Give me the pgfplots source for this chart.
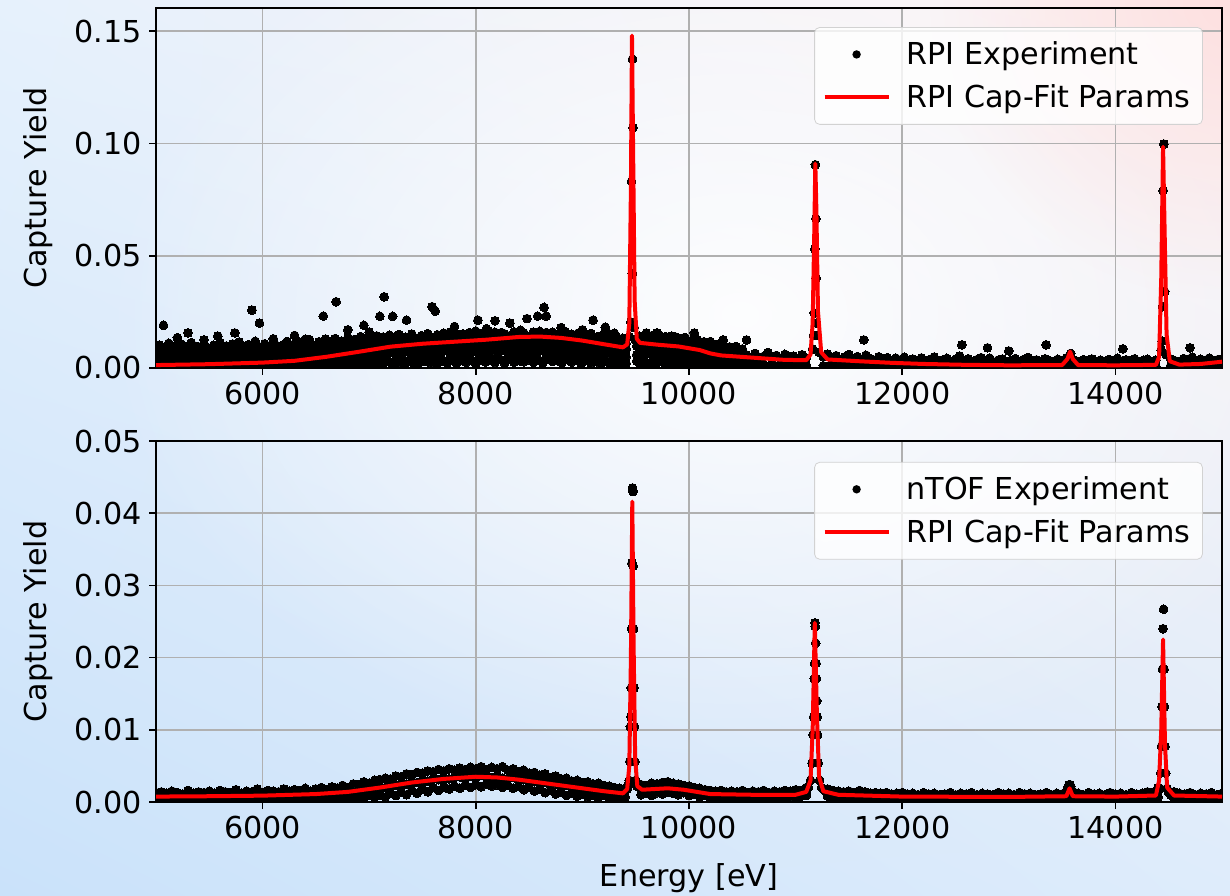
\documentclass[border=0pt]{standalone}
\usepackage{pgfplots}
\pgfplotsset{compat=1.18}
\usepackage{pgfplotstable}
\usepackage{fontspec}
\setmainfont{DejaVu Sans}
\usetikzlibrary{fadings,shadings}
\tikzfading[name=myfade, inner color=transparent!0, outer color=transparent!100]
\newcommand\fs{\fontsize{15.1}{17.5}\selectfont}
\definecolor{bgUL}{RGB}{230,241,252}
\definecolor{bgUR}{RGB}{254,243,243}
\definecolor{bgLL}{RGB}{202,226,250}
\definecolor{bgLR}{RGB}{222,236,251}
\definecolor{pinkc}{RGB}{253,224,224}
\definecolor{gridc}{RGB}{176,176,176}
\definecolor{legc}{RGB}{210,210,210}

% ---------- top panel: RPI experiment (values in units of 1e-3) ----------
\pgfplotstableread{
E a b c d
5000 1.2 3.1 7.9 5.5
5030 0.3 5.6 10.2 2.4
5060 1.9 4.0 6.8 8.7
5090 0.6 6.2 9.4 3.9
5120 1.4 2.8 11.0 6.6
5150 0.2 4.9 7.5 9.6
5180 2.1 3.6 9.9 1.5
5210 0.9 6.5 8.2 4.3
5240 0.4 4.2 10.6 7.4
5270 1.7 5.3 7.1 2.8
5300 0.7 3.4 9.0 6.1
5330 2.3 5.9 11.3 8.2
5360 0.1 4.5 8.0 3.0
5390 1.1 2.9 9.6 5.9
5420 1.8 6.1 7.4 9.3
5450 0.5 4.8 10.9 2.2
5480 1.5 3.7 8.6 6.9
5510 0.8 5.5 6.9 4.0
5540 2.0 4.1 10.1 7.9
5570 0.3 6.6 9.2 1.8
5600 1.3 3.3 11.4 5.2
5630 0.6 5.0 8.3 9.0
5660 2.2 4.4 9.8 3.4
5690 0.9 6.8 7.6 6.4
5720 1.6 3.9 10.7 8.5
5750 0.4 5.7 8.9 2.5
5780 1.9 4.6 11.6 7.2
5810 0.7 3.2 9.3 4.8
5840 1.2 6.3 7.8 9.8
5870 2.4 5.1 10.4 3.1
5900 0.2 3.8 8.7 6.3
5930 1.4 6.0 11.9 8.0
5960 0.8 4.3 9.1 2.0
5990 2.0 5.8 7.7 5.0
6020 0.5 3.6 10.8 7.6
6050 1.7 6.4 9.5 3.3
6080 1.0 4.7 8.4 9.4
6110 2.3 5.4 11.2 5.7
6140 0.6 3.9 9.7 2.6
6170 1.5 6.7 8.1 8.3
6200 0.9 4.9 10.5 6.0
6230 2.5 5.6 11.8 3.7
6260 1.1 4.1 9.0 10.2
6290 0.7 7.0 10.1 4.6
6320 2.0 5.2 12.3 7.9
6350 1.3 6.3 8.8 2.9
6380 2.8 4.4 11.0 9.7
6410 0.8 7.4 9.6 5.3
6440 1.9 5.7 12.6 3.4
6470 2.6 4.8 10.3 8.6
6500 1.2 6.9 8.9 6.2
6530 2.2 5.3 11.7 3.9
6560 0.9 7.6 10.0 10.8
6590 3.0 6.1 12.9 8.1
6620 1.6 5.0 9.4 4.4
6650 2.4 7.8 11.4 12.0
6680 1.0 6.4 13.1 3.2
6710 3.2 5.5 10.6 9.1
6740 1.8 8.0 12.0 6.0
6770 2.7 6.7 9.8 11.5
6800 1.4 7.2 13.5 4.9
6830 3.5 5.9 11.1 9.6
6860 2.1 8.3 12.7 5.6
6890 1.2 6.8 10.4 12.4
6920 3.3 7.9 14.0 4.2
6950 2.5 6.2 11.8 9.9
6980 1.7 8.6 13.2 6.3
7010 3.8 7.1 10.9 12.9
7040 2.3 9.0 12.5 5.0
7070 1.5 6.6 14.3 10.6
7100 3.6 8.2 11.6 6.8
7130 2.0 7.5 13.8 13.3
7160 4.1 9.3 12.2 5.4
7190 2.8 6.9 14.6 11.0
7220 1.6 8.8 11.3 7.2
7250 3.9 7.7 13.0 14.0
7280 2.4 9.6 14.9 5.9
7310 4.3 8.0 12.0 10.3
7340 1.9 7.3 13.7 7.8
7370 3.4 9.9 11.9 13.8
7400 2.6 8.4 15.1 6.0
7430 4.5 7.6 13.3 11.6
7460 2.1 10.1 12.4 8.3
7490 3.7 8.7 14.4 5.5
7520 2.9 9.4 11.7 13.9
7550 4.6 7.9 15.3 6.4
7580 2.2 10.4 13.1 11.9
7610 3.8 8.9 12.6 7.1
7640 1.8 9.7 14.8 14.6
7670 4.2 8.1 13.5 6.0
7700 3.1 10.6 15.5 12.3
7730 2.3 9.0 12.8 7.7
7760 4.7 8.3 14.2 16.0
7790 3.3 10.9 13.0 6.6
7820 2.0 9.5 15.0 12.6
7850 4.4 8.6 12.3 8.0
7880 3.5 10.2 14.7 15.2
7910 2.5 9.2 13.4 6.9
7940 4.9 11.1 15.8 12.0
7970 3.0 8.8 12.9 7.4
8000 2.1 10.5 14.5 16.4
8030 4.6 9.4 13.6 7.0
8060 3.4 11.3 15.4 13.0
8090 2.7 8.9 12.7 6.2
8120 4.8 10.8 14.9 16.6
8150 3.2 9.6 13.2 7.5
8180 2.4 11.6 15.9 13.5
8210 5.0 9.1 14.0 6.7
8240 3.6 10.3 12.6 15.8
8270 2.2 11.0 15.2 7.8
8300 4.3 9.8 13.7 12.9
8330 3.9 11.4 14.6 6.3
8360 2.6 9.3 16.1 14.0
8390 5.2 10.7 13.1 8.1
8420 3.1 11.8 14.8 16.8
8450 2.8 9.5 15.6 6.9
8480 4.7 10.9 13.5 13.7
8510 3.5 11.5 14.3 7.4
8540 2.5 9.7 16.0 12.9
8570 5.1 11.2 13.8 6.6
8600 3.3 10.0 15.3 16.3
8630 2.3 11.9 14.1 7.7
8660 4.5 9.9 15.8 13.1
8690 3.7 11.1 13.4 6.4
8720 2.9 10.2 14.9 15.9
8750 4.9 9.4 12.8 7.2
8780 3.0 11.3 15.1 12.4
8810 2.4 9.1 13.9 6.1
8840 4.4 10.6 14.4 16.2
8870 3.6 8.8 12.5 7.5
8900 2.6 10.9 15.0 12.8
8930 4.8 9.3 13.3 5.8
8960 3.2 8.6 14.6 15.5
8990 2.0 10.4 12.2 7.0
9020 4.1 9.0 13.8 12.0
9050 3.4 8.2 14.9 5.7
9080 2.2 10.0 12.7 15.4
9110 4.3 8.7 13.5 6.6
9140 3.0 7.9 11.8 13.9
9170 1.8 9.6 14.2 5.2
9200 3.9 8.4 12.4 10.8
9230 2.7 7.5 13.6 6.2
9260 1.5 9.2 11.5 14.4
9290 3.6 8.0 12.9 5.6
9320 2.4 7.2 14.0 10.3
9350 1.9 9.0 11.3 6.0
9380 3.3 6.8 12.6 13.2
9410 2.1 8.5 10.9 5.0
9510 3.2 9.8 12.9 6.0
9540 1.5 7.6 14.1 11.5
9570 4.0 10.5 11.8 5.3
9600 2.3 8.3 13.6 15.0
9630 0.9 9.9 12.2 6.7
9660 3.6 7.2 14.4 11.0
9690 1.8 10.2 11.5 5.8
9720 4.2 8.6 13.1 14.6
9750 2.6 9.3 12.0 6.2
9780 1.1 7.8 14.0 10.6
9810 3.8 10.0 11.2 5.5
9840 2.0 8.1 12.8 14.2
9870 0.7 9.5 13.9 5.9
9900 3.4 7.0 11.6 10.1
9930 1.6 8.9 12.4 5.0
9960 4.0 7.5 13.3 13.6
9990 2.4 9.2 10.9 5.7
10020 1.0 6.9 12.1 9.7
10050 3.1 8.4 11.3 4.9
10080 1.9 7.1 12.6 12.4
10110 0.6 8.8 10.5 5.2
10140 2.8 6.3 11.7 9.0
10170 1.4 7.7 9.8 4.4
10200 3.0 5.9 11.0 11.8
10230 0.8 7.0 9.3 4.1
10260 2.2 5.4 10.4 8.2
10290 1.2 6.6 8.7 3.7
10320 2.6 4.9 9.9 10.8
10350 0.5 6.1 8.2 3.5
10380 1.8 4.5 9.4 7.1
10410 1.0 5.8 7.6 3.0
10440 2.3 4.2 8.9 9.6
10470 0.4 5.5 7.3 2.8
10500 1.6 3.9 8.5 6.6
}\topA

\pgfplotstableread{
E a b
10540 1.2 5.8
10580 0.4 4.6
10620 2.0 6.5
10660 0.9 4.1
10700 1.5 5.2
10740 0.3 6.9
10780 1.8 4.4
10820 0.7 5.6
10860 2.2 3.9
10900 1.1 6.1
10940 0.5 4.8
10980 1.6 5.3
11020 0.8 3.7
11060 2.1 5.9
11100 1.3 4.5
11260 1.0 5.0
11300 0.6 6.2
11340 1.7 4.3
11380 0.4 5.5
11420 1.4 3.8
11460 0.9 4.9
11500 2.0 6.0
11540 0.3 4.0
11580 1.2 5.1
11620 0.7 3.6
11660 1.9 5.7
11700 0.5 4.2
11740 1.3 3.3
11780 0.8 5.0
11820 1.6 3.9
11860 0.2 4.6
11900 1.1 3.1
11940 0.6 4.4
11980 1.5 3.5
12020 0.4 4.8
12060 1.0 2.9
12100 0.7 4.0
12140 1.4 3.2
12180 0.3 4.5
12220 0.9 2.6
12260 1.2 3.8
12300 0.5 4.9
12340 1.6 3.0
12380 0.2 3.6
12420 0.8 4.3
12460 1.3 2.7
12500 0.4 3.9
12540 1.0 5.3
12580 0.6 3.1
12620 1.5 4.1
12660 0.3 2.8
12700 0.9 3.7
12740 1.2 4.6
12780 0.5 3.0
12820 0.7 4.4
12860 1.4 2.5
12900 0.2 3.5
12940 1.0 4.0
12980 0.6 2.9
13020 1.3 3.4
13060 0.4 4.2
13100 0.8 2.6
13140 1.1 3.8
13180 0.3 4.7
13220 0.9 3.0
13260 1.4 3.6
13300 0.5 2.7
13340 0.7 4.1
13380 1.2 3.3
13420 0.3 2.9
13460 1.0 3.9
13500 0.6 3.2
13540 1.1 4.5
13580 2.5 6.5
13620 0.8 3.4
13660 0.4 2.8
13700 1.2 3.7
13740 0.7 3.0
13780 0.3 4.0
13820 1.0 2.6
13860 0.6 3.5
13900 1.3 2.9
13940 0.2 3.8
13980 0.8 3.1
14020 1.1 4.3
14060 0.5 2.7
14100 0.9 3.6
14140 1.4 3.0
14180 0.3 4.1
14220 0.7 2.8
14260 1.2 3.4
14300 0.4 3.9
14340 1.0 2.9
14380 0.6 3.5
14520 1.1 4.0
14560 0.5 3.2
14600 1.3 2.8
14640 0.7 4.2
14680 0.3 3.5
14720 1.0 4.8
14760 1.5 3.0
14800 0.6 3.9
14840 1.2 3.3
14880 0.4 4.4
14920 0.9 3.1
14960 1.4 3.7
15000 0.8 4.0
}\topB

\pgfplotstableread{
E y
5070 19.0
5200 13.5
5300 15.6
5450 12.5
5580 14.2
5740 15.6
5900 25.8
5970 20.0
6100 13.0
6300 14.5
6400 12.8
6570 23.1
6690 29.5
6800 17.0
6950 19.0
7000 16.0
7100 23.0
7140 31.7
7220 23.0
7350 21.3
7590 27.3
7620 25.3
7800 18.5
8020 21.3
8100 17.5
8180 21.0
8320 20.0
8480 22.0
8580 23.1
8640 27.0
8660 23.1
8800 18.0
9000 17.0
9100 21.3
9215 18.2
9220 16.9
9300 15.5
9600 15.6
9700 15.6
9900 13.3
10050 15.6
10320 12.5
10540 12.5
11640 12.5
12560 10.3
12800 9.0
13000 7.6
13350 10.3
14070 8.5
14700 9.0
9440 14.0
9455 20.5
9460 83.0
9468 42.0
9470 137.5
9475 107.0
9485 18.0
9495 12.5
11160 8.5
11170 14.5
11175 24.5
11180 53.0
11185 90.5
11190 66.5
11193 40.0
11196 20.0
11205 14.5
11220 7.0
14430 8.0
14440 12.0
14443 27.3
14448 79.0
14455 99.7
14462 34.0
14475 6.0
}\topP

\pgfplotstableread{
E y
5000 1.3
5500 1.7
6000 2.4
6300 3.2
6600 5.0
6900 7.2
7200 9.5
7500 10.8
7800 11.7
8100 12.6
8400 13.8
8600 14.0
8800 13.4
9000 12.2
9200 10.6
9380 9.2
9420 10.5
9440 20
9455 80
9465 148
9475 100
9490 30
9510 13
9540 11.2
9700 10.4
9900 9.6
10100 8.0
10200 6.5
10300 5.6
10600 4.6
10900 3.6
11100 3.5
11140 6
11160 20
11175 60
11185 91
11195 70
11210 25
11240 7
11300 3.8
11600 3.0
11900 2.3
12200 1.8
12600 1.4
13000 1.2
13500 1.3
13550 4
13575 7.3
13600 4
13650 1.3
14000 1.2
14380 1.4
14410 5
14430 40
14447 98.5
14462 60
14480 15
14510 3
14600 1.5
14800 1.8
15000 2.8
}\topFit

% ---------- bottom panel: nTOF experiment (values in units of 1e-3) ----------
\pgfplotstableread{
E a b c
5000 0.4 0.8 1.3
5050 0.2 0.7 1.4
5100 0.5 0.9 1.2
5150 0.1 0.7 1.5
5200 0.3 0.6 1.3
5250 0.6 0.9 1.1
5300 0.2 0.8 1.6
5350 0.4 0.7 1.2
5400 0.1 0.9 1.4
5450 0.5 0.8 1.3
5500 0.3 0.6 1.5
5550 0.2 0.9 1.2
5600 0.5 0.8 1.6
5650 0.3 0.7 1.4
5700 0.1 1.0 1.3
5750 0.4 0.8 1.7
5800 0.6 0.9 1.2
5850 0.2 0.7 1.5
5900 0.4 1.0 1.4
5950 0.3 0.8 1.8
6000 0.5 0.9 1.3
6050 0.2 1.0 1.6
6100 0.6 0.8 1.5
6150 0.4 1.1 1.4
6200 0.3 0.9 1.8
6250 0.7 1.0 1.5
6300 0.4 1.2 1.7
6350 0.5 0.9 1.6
6400 0.3 1.1 1.9
6450 0.6 1.0 1.5
6500 0.5 1.2 1.8
6550 0.4 1.1 2.0
6600 0.7 1.3 1.7
6650 0.3 1.2 2.1
6700 0.6 1.4 1.9
6750 0.4 1.3 2.3
6800 0.8 1.5 2.0
6850 0.5 1.4 2.5
6900 0.7 1.7 2.4
6950 0.4 1.6 2.8
7000 0.9 1.9 2.6
7050 0.6 1.8 3.0
7100 1.0 2.1 3.1
7150 0.7 2.0 3.3
7200 1.2 2.4 3.2
7250 0.9 2.3 3.6
7300 1.4 2.6 3.5
7350 1.0 2.5 3.9
7400 1.6 2.8 3.8
7450 1.2 2.7 4.1
7500 1.8 3.0 4.0
7550 1.4 2.9 4.3
7600 2.0 3.2 4.2
7650 1.6 3.1 4.5
7700 2.1 3.3 4.3
7750 1.8 3.2 4.6
7800 2.2 3.4 4.4
7850 1.9 3.5 4.7
7900 2.3 3.3 4.5
7950 2.0 3.6 4.8
8000 2.4 3.4 4.6
8050 2.1 3.7 4.9
8100 2.5 3.5 4.5
8150 2.2 3.4 4.8
8200 2.4 3.6 4.6
8250 2.0 3.3 4.9
8300 2.3 3.2 4.4
8350 1.9 3.4 4.6
8400 2.2 3.0 4.2
8450 1.7 3.1 4.4
8500 2.0 2.8 4.0
8550 1.5 2.9 4.1
8600 1.8 2.6 3.7
8650 1.3 2.7 3.9
8700 1.6 2.4 3.4
8750 1.1 2.5 3.6
8800 1.4 2.2 3.2
8850 0.9 2.3 3.3
8900 1.2 2.0 2.9
8950 0.8 2.1 3.0
9000 1.1 1.8 2.7
9050 0.7 1.9 2.8
9100 1.0 1.7 2.5
9150 0.6 1.6 2.6
9200 0.9 1.5 2.3
9250 0.5 1.4 2.2
9300 0.8 1.3 2.0
9350 0.4 1.2 1.9
9400 0.7 1.4 1.8
9550 1.0 1.7 2.4
9600 1.2 1.8 2.3
9650 0.9 1.9 2.6
9700 1.3 1.8 2.5
9750 1.1 2.0 2.7
9800 1.4 1.9 2.8
9850 1.2 2.0 2.6
9900 1.0 1.8 2.5
9950 1.3 1.7 2.3
10000 0.9 1.6 2.2
10050 1.1 1.5 2.0
10100 0.7 1.3 1.9
10150 0.9 1.2 1.7
10200 0.6 1.1 1.6
10250 0.8 1.2 1.5
10300 0.5 1.0 1.6
10350 0.7 1.1 1.4
10400 0.4 0.9 1.5
10450 0.6 1.0 1.4
10500 0.5 1.1 1.6
10550 0.7 1.0 1.3
10600 0.4 0.9 1.5
10650 0.6 1.1 1.4
10700 0.5 1.0 1.6
10750 0.7 0.9 1.3
10800 0.4 1.1 1.5
10850 0.6 1.0 1.4
10900 0.5 1.2 1.6
10950 0.7 1.0 1.5
11000 0.6 1.1 1.7
11050 0.8 1.2 1.6
11100 0.9 1.4 2.0
11300 0.8 1.3 1.8
11350 0.6 1.1 1.6
11400 0.5 1.0 1.5
11450 0.7 0.9 1.4
11500 0.4 1.0 1.5
11550 0.6 0.9 1.3
11600 0.5 1.1 1.6
11650 0.3 0.8 1.4
11700 0.5 0.9 1.2
11750 0.4 0.8 1.3
11800 0.2 0.9 1.2
11850 0.4 0.7 1.3
11900 0.3 0.8 1.1
11950 0.5 0.7 1.2
12000 0.2 0.8 1.3
12050 0.4 0.7 1.1
12100 0.3 0.8 1.2
12150 0.5 0.6 1.0
12200 0.2 0.7 1.3
12250 0.4 0.8 1.1
12300 0.3 0.6 1.2
12350 0.5 0.7 1.0
12400 0.2 0.8 1.1
12450 0.4 0.6 1.3
12500 0.3 0.7 1.0
12550 0.5 0.8 1.2
12600 0.2 0.6 1.1
12650 0.4 0.7 1.3
12700 0.3 0.8 1.0
12750 0.5 0.6 1.2
12800 0.2 0.7 1.1
12850 0.4 0.8 1.0
12900 0.3 0.6 1.3
12950 0.5 0.7 1.1
13000 0.2 0.8 1.2
13050 0.4 0.6 1.0
13100 0.3 0.7 1.3
13150 0.5 0.8 1.1
13200 0.2 0.6 1.2
13250 0.4 0.7 1.0
13300 0.3 0.8 1.1
13350 0.5 0.6 1.3
13400 0.2 0.7 1.0
13450 0.4 0.8 1.2
13500 0.3 0.7 1.1
13550 0.6 1.2 1.9
13575 1.8 2.2 2.4
13600 0.5 1.0 1.5
13650 0.3 0.7 1.2
13700 0.4 0.8 1.0
13750 0.2 0.7 1.3
13800 0.5 0.6 1.1
13850 0.3 0.8 1.2
13900 0.4 0.7 1.0
13950 0.2 0.8 1.3
14000 0.5 0.7 1.1
14050 0.3 0.6 1.2
14100 0.4 0.8 1.0
14150 0.2 0.7 1.3
14200 0.5 0.8 1.1
14250 0.3 0.9 1.2
14300 0.4 0.8 1.4
14350 0.5 0.9 1.3
14400 0.7 1.4 2.0
14550 0.5 0.9 1.4
14600 0.3 0.8 1.2
14650 0.4 0.7 1.1
14700 0.2 0.8 1.3
14750 0.5 0.7 1.0
14800 0.3 0.8 1.2
14850 0.4 0.6 1.1
14900 0.2 0.7 1.3
14950 0.5 0.8 1.0
15000 0.3 0.7 1.2
}\botA

\pgfplotstableread{
E y
9420 1.8
9430 2.4
9440 3.0
9445 5.6
9450 10.4
9455 11.8
9458 15.8
9462 24.0
9465 33.1
9470 43.5
9472 43.2
9474 43.0
9476 32.7
9480 24.0
9484 15.8
9488 10.4
9492 5.6
9500 3.0
9510 2.2
11120 2.0
11140 3.0
11155 5.4
11165 9.3
11170 11.8
11175 17.1
11178 19.2
11182 24.8
11185 24.3
11188 22.0
11192 19.2
11195 17.1
11198 14.0
11202 11.8
11206 9.3
11212 5.4
11225 3.0
11245 2.0
11270 1.6
13565 2.4
13580 2.2
14415 1.9
14425 4.0
14432 7.7
14438 13.2
14442 18.4
14447 24.0
14452 26.7
14456 18.4
14460 13.2
14465 7.7
14472 4.0
14485 1.9
14500 1.3
14520 1.0
}\botP

\pgfplotstableread{
E y
5000 0.75
5500 0.8
6000 0.88
6500 1.1
6800 1.4
7100 2.0
7400 2.7
7700 3.2
8000 3.5
8200 3.4
8400 3.1
8700 2.5
9000 1.9
9200 1.5
9380 1.2
9420 1.8
9440 5
9455 20
9468 41.6
9480 22
9495 6
9515 2.2
9560 1.7
9800 1.9
9950 1.7
10200 1.1
10600 1.0
11000 1.0
11100 1.4
11140 3
11160 10
11180 24.8
11200 12
11220 3.5
11260 1.5
11400 1.0
12000 0.75
13000 0.7
13540 0.8
13570 1.9
13600 0.8
14000 0.75
14380 0.9
14410 3
14430 10
14447 22.5
14465 8
14485 2
14550 0.9
15000 0.75
}\botFit

\pgfplotsset{
  panel/.style={
    scale only axis, width=533pt,
    xmin=5000, xmax=15000,
    xtick={6000,8000,10000,12000,14000},
    clip marker paths=true,
    grid=major,
    major grid style={gridc, line width=0.8pt},
    axis line style={black, line width=0.8pt},
    tick align=outside, major tick length=3.5pt,
    tick style={black, line width=0.8pt},
    xtick pos=bottom, ytick pos=left,
    /pgf/number format/assume math mode=true,
    tick label style={font=\fs},
    x tick label style={/pgf/number format/1000 sep={}},
    y tick label style={/pgf/number format/.cd, fixed, fixed zerofill, precision=2},
    scaled x ticks=false, scaled y ticks=false,
    label style={font=\fs},
    ylabel={Capture Yield},
    ylabel style={at={(axis description cs:-0.1107,0.5)}, anchor=center},
    legend cell align=left,
    legend style={font=\fs, fill=white, fill opacity=0.8, text opacity=1,
      draw=legc, rounded corners=2.5pt, anchor=north east,
      inner xsep=4pt, inner ysep=5pt, row sep=4.5pt,
      /tikz/every odd column/.append style={column sep=6pt}},
  },
  expdots/.style={only marks, draw=none, mark=*, mark size=2.2pt,
    mark options={fill=black, draw=black, line width=0pt}},
  dotlegend/.style={legend image code/.code={
    \path (0pt,0pt) (32pt,0pt);
    \fill[black, fill opacity=1] (16pt,0pt) circle (2.1pt);}},
  fitline/.style={red, line width=2pt, line join=round, mark=none,
    legend image code/.code={\draw[red, line width=2pt, draw opacity=1] (0pt,0pt) -- (32pt,0pt);}},
}

\begin{document}
\begin{tikzpicture}
\useasboundingbox (0,0) rectangle (615pt,447.5pt);
\begin{scope}
\clip (0,0) rectangle (615pt,447.5pt);
\shade[upper left=bgUL, upper right=bgUR, lower left=bgLL, lower right=bgLR]
  (0,0) rectangle (615pt,447.5pt);
\fill[white, path fading=myfade, fill opacity=0.9] (370pt,290pt) ellipse (320pt and 230pt);
\fill[pinkc, path fading=myfade] (615pt,447.5pt) circle (150pt);
\end{scope}

% ---------------- top panel ----------------
\begin{axis}[panel, at={(78pt,263.5pt)}, anchor=south west,
  height=180pt, ymin=0, ymax=0.1603, ytick={0,0.05,0.10,0.15},
  legend style={at={(0.982,0.947)}}]
\addplot[expdots, dotlegend] table[x=E, y expr=\thisrow{a}/1000] {\topA};
\addlegendentry{RPI Experiment}
\addplot[expdots, forget plot] table[x=E, y expr=\thisrow{b}/1000] {\topA};
\addplot[expdots, forget plot] table[x=E, y expr=\thisrow{c}/1000] {\topA};
\addplot[expdots, forget plot] table[x=E, y expr=\thisrow{d}/1000] {\topA};
\addplot[expdots, forget plot] table[x=E, y expr=\thisrow{a}/1000] {\topB};
\addplot[expdots, forget plot] table[x=E, y expr=\thisrow{b}/1000] {\topB};
\addplot[expdots, forget plot] table[x=E, y expr=\thisrow{y}/1000] {\topP};
\addplot[fitline] table[x=E, y expr=\thisrow{y}/1000] {\topFit};
\addlegendentry{RPI Cap-Fit Params}
\end{axis}

% ---------------- bottom panel ----------------
\begin{axis}[panel, at={(78pt,46.5pt)}, anchor=south west,
  height=180.5pt, ymin=0, ymax=0.05, ytick={0,0.01,0.02,0.03,0.04,0.05},
  xlabel={Energy [eV]},
  xlabel style={at={(axis description cs:0.5,-0.2105)}, anchor=center},
  legend style={at={(0.982,0.942)}}]
\addplot[expdots, dotlegend] table[x=E, y expr=\thisrow{a}/1000] {\botA};
\addlegendentry{nTOF Experiment}
\addplot[expdots, forget plot] table[x=E, y expr=\thisrow{b}/1000] {\botA};
\addplot[expdots, forget plot] table[x=E, y expr=\thisrow{c}/1000] {\botA};
\addplot[expdots, forget plot] table[x=E, y expr=\thisrow{y}/1000] {\botP};
\addplot[fitline] table[x=E, y expr=\thisrow{y}/1000] {\botFit};
\addlegendentry{RPI Cap-Fit Params}
\end{axis}
\end{tikzpicture}
\end{document}
